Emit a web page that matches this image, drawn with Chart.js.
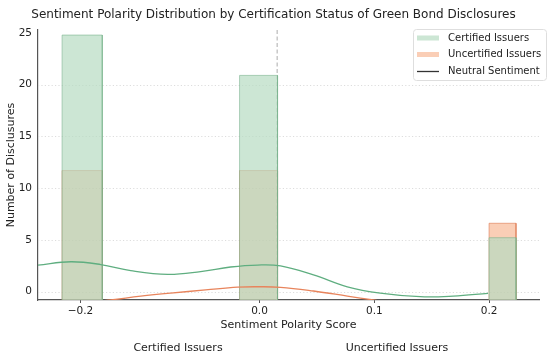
<!DOCTYPE html>
<html>
<head>
<meta charset="utf-8">
<script src="https://cdn.jsdelivr.net/npm/chart.js"></script>
<style>
html,body{margin:0;padding:0;background:#fff;}
canvas{display:block;}
</style>
</head>
<body>
<canvas id="c" width="550" height="362"></canvas>
<script>
// ---- data ----
const titleText = 'Sentiment Polarity Distribution by Certification Status of Green Bond Disclosures';
const seriesNames = ['Certified Issuers', 'Uncertified Issuers', 'Neutral Sentiment'];
const groupLabels = ['Certified Issuers', 'Uncertified Issuers'];

const xTickPos = [-0.156, 0.0, 0.1, 0.2];
const xTickLabels = ['\u22120.2', '0.0', '0.1', '0.2'];
const yTicks = [0, 5, 10, 15, 20, 25];

const binLeft  = [-0.172, -0.0174, 0.2];
const binRight = [-0.137, 0.0157, 0.2235];
const certifiedCounts   = [24.8, 20.9, 5.2];
const uncertifiedCounts = [11.7, 11.7, 6.6];

const certKdeX = [-0.193, -0.1643, -0.1383, -0.1122, -0.08, -0.0513, -0.0252, -0.0017, 0.0183, 0.047, 0.0765, 0.1052, 0.14, 0.1687, 0.1991];
const certKdeY = [2.56, 2.88, 2.61, 2.02, 1.66, 1.93, 2.37, 2.56, 2.47, 1.6, 0.46, -0.15, -0.5, -0.44, -0.17];
const uncertKdeX = [-0.1383, -0.1296, -0.1035, -0.0774, -0.047, -0.0191, -0.0017, 0.0183, 0.047, 0.0765, 0.0991, 0.1096];
const uncertKdeY = [-0.9, -0.82, -0.45, -0.15, 0.15, 0.42, 0.46, 0.41, 0.05, -0.44, -0.82, -1.0];

const neutralX = 0.0154;

const xMin = -0.193, xMax = 0.2435;
const yMin = -0.82, yMax = 25.29;

// ---- styles ----
const FONT = "'DejaVu Sans', 'Liberation Sans', sans-serif";
const greenFill = 'rgba(182,219,194,0.70)';
const greenEdge = 'rgba(120,178,140,0.60)';
const orangeFill = 'rgba(242,132,72,0.40)';
const orangeEdge = 'rgba(220,120,80,0.60)';
const greenLine = '#5fae80';
const orangeLine = '#e8845c';

function barPoly(l, r, h) {
  return [{x: l, y: yMin}, {x: l, y: h}, {x: r, y: h}, {x: r, y: yMin}];
}

const datasets = [];
datasets.push({type: 'line', label: seriesNames[0] + ' KDE',
  data: certKdeX.map((x, i) => ({x, y: certKdeY[i]})),
  borderColor: greenLine, borderWidth: 1.3, pointRadius: 0, tension: 0.4, fill: false, order: 0});
datasets.push({type: 'line', label: seriesNames[1] + ' KDE',
  data: uncertKdeX.map((x, i) => ({x, y: uncertKdeY[i]})),
  borderColor: orangeLine, borderWidth: 1.3, pointRadius: 0, tension: 0.4, fill: false, order: 0});
binLeft.forEach((l, i) => {
  datasets.push({type: 'line', label: seriesNames[0],
    data: barPoly(l, binRight[i], certifiedCounts[i]),
    borderColor: greenEdge, borderWidth: 1, backgroundColor: greenFill,
    pointRadius: 0, tension: 0, fill: 'start', order: 1});
  datasets.push({type: 'line', label: seriesNames[1],
    data: barPoly(l, binRight[i], uncertifiedCounts[i]),
    borderColor: orangeEdge, borderWidth: 1, backgroundColor: orangeFill,
    pointRadius: 0, tension: 0, fill: 'start', order: 2});
});

const decor = {
  id: 'decor',
  beforeDatasetsDraw(chart) {
    const {ctx, chartArea: a, scales: {x, y}} = chart;
    ctx.save();
    // dotted grid
    ctx.strokeStyle = '#d9d9d9';
    ctx.lineWidth = 0.9;
    ctx.setLineDash([1.2, 2.2]);
    yTicks.forEach(v => {
      if (v >= 25) return;
      const py = Math.round(y.getPixelForValue(v)) + 0.5;
      ctx.beginPath(); ctx.moveTo(a.left, py); ctx.lineTo(a.right, py); ctx.stroke();
    });
    // neutral dashed line
    const px = x.getPixelForValue(neutralX);
    ctx.strokeStyle = '#c4c4c4';
    ctx.lineWidth = 1.4;
    ctx.setLineDash([4, 2.5]);
    ctx.beginPath(); ctx.moveTo(px, a.top); ctx.lineTo(px, a.bottom); ctx.stroke();
    ctx.restore();
  },
  afterDraw(chart) {
    const {ctx} = chart;
    ctx.save();
    // title
    ctx.fillStyle = '#222';
    ctx.font = '12px ' + FONT;
    ctx.textAlign = 'center';
    ctx.textBaseline = 'middle';
    ctx.fillText(titleText, 273.5, 15);
    // group labels
    ctx.font = '11px ' + FONT;
    ctx.fillText(groupLabels[0], 178, 348);
    ctx.fillText(groupLabels[1], 397, 348);
    // legend
    const bx = 413, by = 29, bw = 133, bh = 51;
    ctx.fillStyle = 'rgba(255,255,255,0.85)';
    ctx.strokeStyle = '#dedede';
    ctx.lineWidth = 1;
    ctx.beginPath();
    if (ctx.roundRect) ctx.roundRect(bx + 0.5, by + 0.5, bw, bh, 3); else ctx.rect(bx + 0.5, by + 0.5, bw, bh);
    ctx.fill(); ctx.stroke();
    const rows = [38, 54.5, 71];
    ctx.fillStyle = greenFill;  ctx.fillRect(417, rows[0] - 2.5, 22, 5);
    ctx.fillStyle = orangeFill; ctx.fillRect(417, rows[1] - 2.5, 22, 5);
    ctx.strokeStyle = '#333'; ctx.lineWidth = 1.3;
    ctx.beginPath(); ctx.moveTo(417, rows[2] + 0.5); ctx.lineTo(439, rows[2] + 0.5); ctx.stroke();
    ctx.fillStyle = '#222';
    ctx.font = '10px ' + FONT;
    ctx.textAlign = 'left';
    seriesNames.forEach((n, i) => ctx.fillText(n, 448, rows[i]));
    ctx.restore();
  }
};

new Chart(document.getElementById('c'), {
  type: 'line',
  data: {datasets},
  options: {
    responsive: false,
    animation: false,
    layout: {padding: {top: 30, right: 11, left: 0, bottom: 0}},
    plugins: {legend: {display: false}, title: {display: false}, tooltip: {enabled: false}},
    scales: {
      x: {
        type: 'linear', min: xMin, max: xMax,
        afterBuildTicks: s => { s.ticks = xTickPos.map(v => ({value: v})); },
        afterFit: s => { s.height = 62; },
        ticks: {callback: (v, i) => xTickLabels[i], font: {family: FONT, size: 10.5}, color: '#222', padding: 2, maxRotation: 0, autoSkip: false},
        grid: {drawOnChartArea: false, drawTicks: true, tickLength: 3, tickColor: '#555', tickWidth: 1},
        border: {display: true, color: '#555', width: 1.2},
        title: {display: true, text: 'Sentiment Polarity Score', color: '#222', font: {family: FONT, size: 11}, padding: {top: 0, bottom: 30.4}}
      },
      y: {
        type: 'linear', min: yMin, max: yMax,
        afterBuildTicks: s => { s.ticks = yTicks.map(v => ({value: v})); },
        afterFit: s => { s.width = 38; },
        ticks: {font: {family: FONT, size: 10.5}, color: '#222', padding: 6},
        grid: {display: false, drawTicks: false},
        border: {display: true, color: '#555', width: 1.2},
        title: {display: true, text: 'Number of Disclusures', color: '#222', font: {family: FONT, size: 11}, padding: {top: 4.4, bottom: 0}}
      }
    }
  },
  plugins: [decor]
});
</script>
</body>
</html>
